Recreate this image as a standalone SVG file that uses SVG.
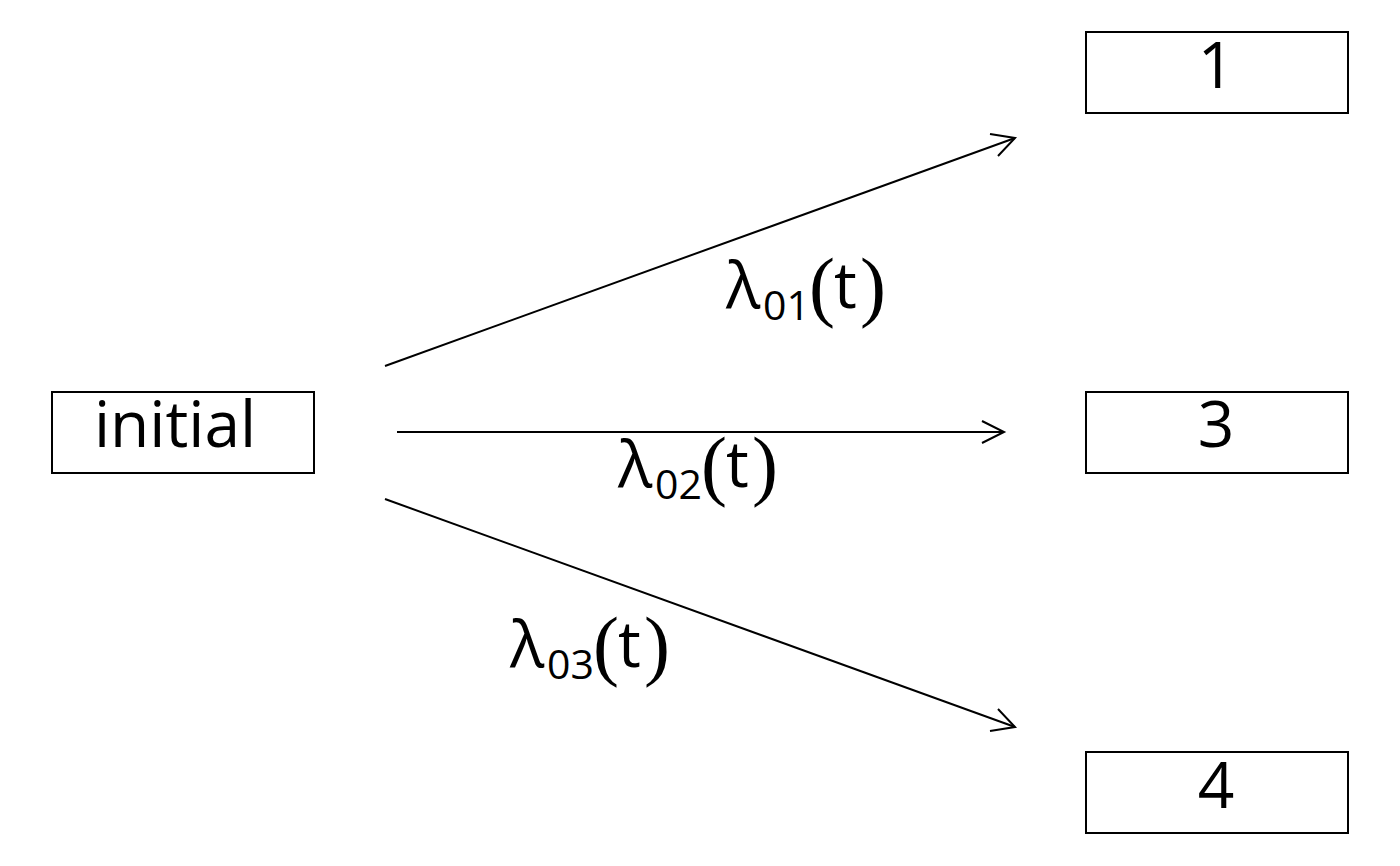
<svg xmlns="http://www.w3.org/2000/svg" width="1400" height="866" viewBox="0 0 1400 866">
<style>
.box{fill:#fff;stroke:#000;stroke-width:2}
.lbl{font-family:"Open Sans","Noto Sans",sans-serif;font-size:64px;fill:#000;text-anchor:middle}
.edge{stroke:#000;stroke-width:2;fill:none}
.el{font-family:"Open Sans","Noto Sans",sans-serif;font-size:64px;fill:#000}
.sub{font-size:41px}
.par{font-family:"Liberation Serif","Times New Roman",serif;font-size:78px}
</style>
<rect width="1400" height="866" fill="#fff"/>
<g id="node-initial"><rect class="box" x="52" y="392" width="262" height="81"/><text class="lbl" x="175" y="447">initial</text></g>
<g id="node-1"><rect class="box" x="1086" y="32" width="262" height="81"/><text class="lbl" x="1216" y="88">1</text></g>
<g id="node-3"><rect class="box" x="1086" y="392" width="262" height="81"/><text class="lbl" x="1216" y="447">3</text></g>
<g id="node-4"><rect class="box" x="1086" y="752" width="262" height="81"/><text class="lbl" x="1216" y="808">4</text></g>
<g id="connectors">
<line class="edge" x1="385" y1="366" x2="1015" y2="138"/>
<polyline class="edge" points="990,134 1015,138 998,156"/>
<line class="edge" x1="397" y1="432" x2="1004" y2="432"/>
<polyline class="edge" points="982,421 1004,432 982,443"/>
<line class="edge" x1="385" y1="499" x2="1015" y2="727"/>
<polyline class="edge" points="998,709 1015,727 990,731"/>
<text class="el" y="308"><tspan x="726">λ</tspan><tspan class="sub" x="763" y="320">01</tspan><tspan class="par" x="809" y="312">(</tspan><tspan x="834" y="308">t</tspan><tspan class="par" x="860" y="312">)</tspan></text>
<text class="el" y="487"><tspan x="618">λ</tspan><tspan class="sub" x="655" y="499">02</tspan><tspan class="par" x="701" y="491">(</tspan><tspan x="726" y="487">t</tspan><tspan class="par" x="752" y="491">)</tspan></text>
<text class="el" y="667"><tspan x="510">λ</tspan><tspan class="sub" x="547" y="679">03</tspan><tspan class="par" x="593" y="671">(</tspan><tspan x="618" y="667">t</tspan><tspan class="par" x="644" y="671">)</tspan></text>
</g>
</svg>
